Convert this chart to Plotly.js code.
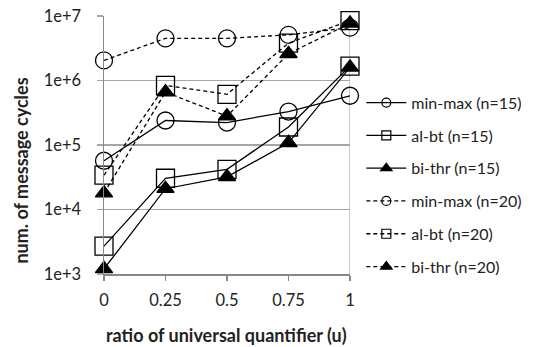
<!DOCTYPE html>
<html>
<head>
<meta charset="utf-8">
<script src="https://cdn.plot.ly/plotly-3.0.1.min.js"></script>
<style>html,body{margin:0;padding:0;background:#fff;}#chart{width:539px;height:347px;}</style>
</head>
<body>
<div id="chart"></div>
<script>
var ratios = [0, 0.25, 0.5, 0.75, 1];
var tickLabels = ["0", "0.25", "0.5", "0.75", "1"];
var minmax15 = [57000, 240000, 223000, 330000, 580000];
var albt15 = [2700, 30500, 42000, 190000, 1670000];
var bithr15 = [1200, 21000, 32000, 108000, 1600000];
var minmax20 = [2050000, 4500000, 4500000, 5100000, 6600000];
var albt20 = [34000, 840000, 610000, 3800000, 8500000];
var bithr20 = [18000, 660000, 280000, 2600000, 7700000];

var seriesNames = ["min-max (n=15)", "al-bt (n=15)", "bi-thr (n=15)", "min-max (n=20)", "al-bt (n=20)", "bi-thr (n=20)"];
var seriesData = [minmax15, albt15, bithr15, minmax20, albt20, bithr20];
var symbols = ["circle-open", "square-open", "triangle-up", "circle-open", "square-open", "triangle-up"];
var dashes = ["solid", "solid", "solid", "4px,3px", "4px,3px", "4px,3px"];
var sizes = [17, 18, 15, 17, 18, 15];
var legSizes = [9, 9, 10, 9, 9, 10];

var traces = [];
for (var i = 0; i < seriesData.length; i++) {
  traces.push({
    x: ratios, y: seriesData[i], type: "scatter", mode: "lines+markers",
    name: seriesNames[i], showlegend: false, cliponaxis: false,
    line: {color: "#000", width: 1.3, dash: dashes[i]},
    marker: {symbol: symbols[i], size: sizes[i], color: "#000",
             line: {color: "#000", width: 1.3}}
  });
}
for (var j = 0; j < seriesData.length; j++) {
  traces.push({
    x: [null], y: [null], type: "scatter", mode: "lines+markers",
    name: seriesNames[j], showlegend: true, legendgroup: "g" + j,
    line: {color: "#000", width: 1.3, dash: dashes[j]},
    marker: {symbol: symbols[j], size: legSizes[j], color: "#000",
             line: {color: "#000", width: 1.2}}
  });
}

var layout = {
  width: 539, height: 347,
  margin: {l: 104, r: 185, t: 15.5, b: 73, pad: 0},
  paper_bgcolor: "#fff", plot_bgcolor: "#fff",
  font: {family: "Lato, 'Open Sans', sans-serif", size: 16, color: "#222"},
  showlegend: true,
  legend: {x: 1.046, xanchor: "left", y: 0.73, yanchor: "top",
           font: {size: 16, color: "#222"}, tracegroupgap: 9, itemwidth: 40,
           bgcolor: "rgba(0,0,0,0)"},
  xaxis: {
    type: "linear", range: [0, 1], tickvals: ratios, ticktext: tickLabels,
    showgrid: false, zeroline: false, showline: true, linecolor: "#888", linewidth: 1.5,
    automargin: false, ticks: "outside", ticklen: 5, tickcolor: "#888", tickwidth: 1.2,
    ticklabelstandoff: 6, tickfont: {size: 16.5}
  },
  yaxis: {
    type: "log", range: [3, 7], automargin: false,
    tickvals: [1000, 10000, 100000, 1000000, 10000000],
    ticktext: ["1e+3", "1e+4", "1e+5", "1e+6", "1e+7"],
    showgrid: true, gridcolor: "#a6a6a6", gridwidth: 1.2,
    zeroline: false, showline: true, linecolor: "#888", linewidth: 1.5,
    ticks: "outside", ticklen: 6, tickcolor: "#a6a6a6", tickwidth: 1.2,
    ticklabelstandoff: 12, tickfont: {size: 16.5}
  },
  annotations: [
    {text: "<b>ratio of universal quantifier (u)</b>", xref: "paper", yref: "paper",
     x: 0.496, y: (274 - 335) / 258.5, xanchor: "center", yanchor: "middle",
     showarrow: false, font: {size: 18}},
    {text: "<b>num. of message cycles</b>", xref: "paper", yref: "paper",
     x: (20 - 104) / 250, y: (274 - 170) / 258.5, xanchor: "center", yanchor: "middle",
     textangle: -90, showarrow: false, font: {size: 18}}
  ],
  shapes: [
    {type: "line", xref: "x", yref: "paper", x0: 1, x1: 1, y0: 0, y1: 1,
     line: {color: "#a6a6a6", width: 1.2}, layer: "below"}
  ]
};

Plotly.newPlot("chart", traces, layout, {displayModeBar: false, staticPlot: true});
</script>
</body>
</html>
